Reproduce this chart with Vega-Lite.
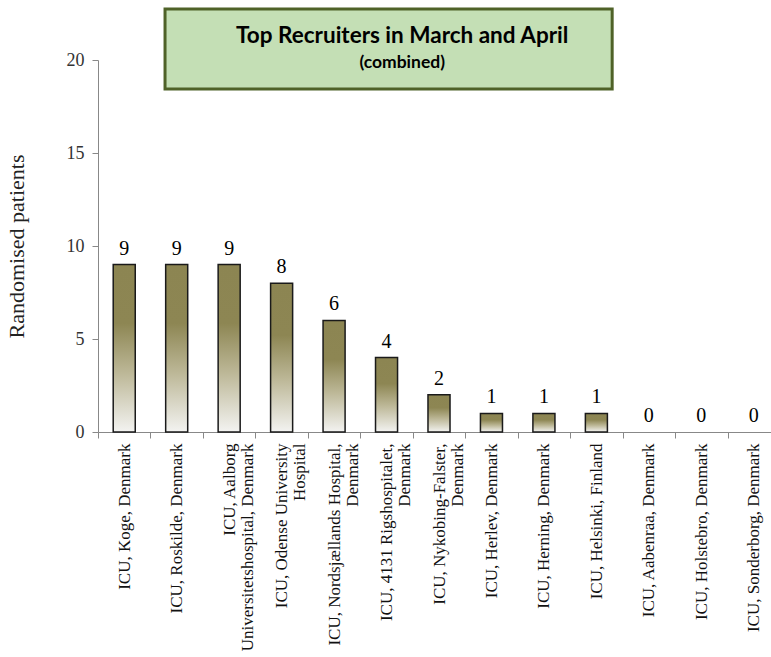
{
  "$schema": "https://vega.github.io/schema/vega-lite/v6.json",
  "width": 673,
  "height": 372,
  "autosize": {"type": "none"},
  "padding": {"left": 98, "top": 60, "right": 0, "bottom": 225},
  "background": "white",
  "config": {"view": {"stroke": null}, "font": "Liberation Serif"},
  "resolve": {"scale": {"x": "independent"}},
  "layer": [
    {
      "data": {"values": [{"box": "title"}]},
      "mark": {"type": "rect", "fill": "#c4dfb5", "stroke": "#4f6228", "strokeWidth": 3, "clip": false},
      "encoding": {
        "x": {"datum": 0.0996, "type": "quantitative", "scale": {"domain": [0, 1]}, "axis": null},
        "x2": {"datum": 0.764},
        "y": {"datum": 18.44, "type": "quantitative", "scale": {"domain": [0, 20]}},
        "y2": {"datum": 22.74}
      }
    },
    {
      "data": {"values": [{"title": "Top Recruiters in March and April", "sub": "(combined)"}]},
      "layer": [
        {
          "mark": {"type": "text", "font": "Lato", "fontWeight": "bold", "fontSize": 22.5, "color": "#000", "baseline": "middle", "clip": false},
          "encoding": {
            "x": {"datum": 0.452, "type": "quantitative", "scale": {"domain": [0, 1]}, "axis": null},
            "y": {"datum": 21.3, "type": "quantitative", "scale": {"domain": [0, 20]}},
            "text": {"field": "title"}
          }
        },
        {
          "mark": {"type": "text", "font": "Lato", "fontWeight": "bold", "fontSize": 17.5, "color": "#000", "baseline": "middle", "clip": false},
          "encoding": {
            "x": {"datum": 0.452, "type": "quantitative", "scale": {"domain": [0, 1]}, "axis": null},
            "y": {"datum": 19.85, "type": "quantitative", "scale": {"domain": [0, 20]}},
            "text": {"field": "sub"}
          }
        }
      ]
    },
    {
      "data": {"values": [
        {"site": "ICU, Koge, Denmark", "patients": 9},
        {"site": "ICU, Roskilde, Denmark", "patients": 9},
        {"site": "ICU, Aalborg|Universitetshospital, Denmark", "patients": 9},
        {"site": "ICU, Odense University|Hospital", "patients": 8},
        {"site": "ICU, Nordsjællands Hospital,|Denmark", "patients": 6},
        {"site": "ICU, 4131 Rigshospitalet,|Denmark", "patients": 4},
        {"site": "ICU, Nykobing-Falster,|Denmark", "patients": 2},
        {"site": "ICU, Herlev, Denmark", "patients": 1},
        {"site": "ICU, Herning, Denmark", "patients": 1},
        {"site": "ICU, Helsinki, Finland", "patients": 1},
        {"site": "ICU, Aabenraa, Denmark", "patients": 0},
        {"site": "ICU, Holstebro, Denmark", "patients": 0},
        {"site": "ICU, Sonderborg, Denmark", "patients": 0}
      ]},
      "encoding": {
        "x": {
          "field": "site", "type": "nominal", "sort": null,
          "scale": {"paddingInner": 0, "paddingOuter": 0, "range": [0, 682]},
          "axis": {
            "title": null, "labelAngle": -90, "labelFont": "Liberation Serif", "labelFontSize": 17,
            "labelColor": "#111", "labelExpr": "split(datum.label, '|')", "labelLineHeight": 18,
            "tickBand": "extent", "tickSize": 6, "tickColor": "#888", "domainColor": "#888",
            "labelPadding": 5, "labelLimit": 400
          }
        },
        "y": {
          "field": "patients", "type": "quantitative",
          "scale": {"domain": [0, 20]},
          "axis": {
            "values": [0, 5, 10, 15, 20], "title": "Randomised patients",
            "titleFont": "Liberation Serif", "titleFontSize": 22, "titleFontWeight": "normal",
            "titleColor": "#222", "titlePadding": 38,
            "labelFont": "Liberation Serif", "labelFontSize": 18, "labelColor": "#333", "labelPadding": 8,
            "tickSize": 6, "tickColor": "#888", "domainColor": "#888", "grid": false
          }
        }
      },
      "layer": [
        {
          "mark": {
            "type": "bar", "width": {"band": 0.42}, "stroke": "#1a1a1a", "strokeWidth": 1.5,
            "color": {
              "gradient": "linear", "x1": 0, "y1": 0, "x2": 0, "y2": 1,
              "stops": [
                {"offset": 0, "color": "#8c8552"},
                {"offset": 0.35, "color": "#8d8653"},
                {"offset": 0.65, "color": "#bdb898"},
                {"offset": 1, "color": "#f3f3f1"}
              ]
            }
          },
          "encoding": {
            "strokeOpacity": {"condition": {"test": "datum.patients == 0", "value": 0}, "value": 1}
          }
        },
        {
          "mark": {"type": "text", "font": "Liberation Serif", "fontSize": 20, "color": "#000", "baseline": "alphabetic", "dy": -10},
          "encoding": {"text": {"field": "patients", "type": "quantitative"}}
        }
      ]
    }
  ]
}
